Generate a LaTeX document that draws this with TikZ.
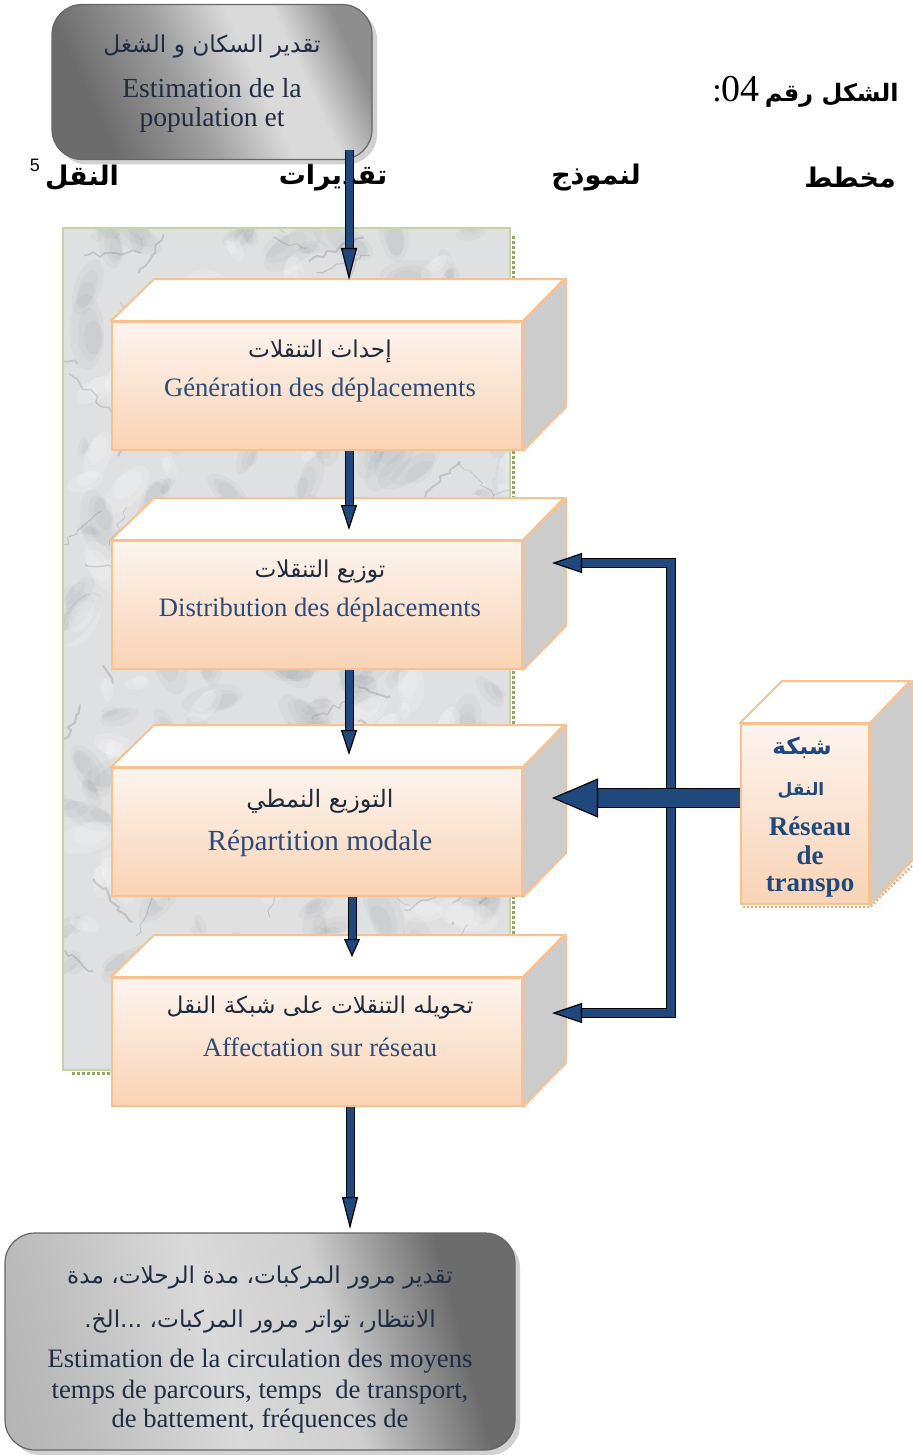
\documentclass[tikz,border=0pt]{standalone}
\usepackage{fontspec}
\setmainfont{Liberation Serif}
\newfontfamily\arabicfont[Script=Arabic]{DejaVu Sans}
\newfontfamily\supfont{Liberation Sans}
\TeXXeTstate=1
\usetikzlibrary{arrows.meta,shadows,decorations.pathmorphing,calc}
\definecolor{arrblue}{HTML}{1F497D}
\definecolor{peachline}{HTML}{FAC090}
\definecolor{peachtop}{HTML}{FDF4EE}
\definecolor{peachbot}{HTML}{F9D3B5}
\definecolor{sidegray}{HTML}{CCCCCC}
\definecolor{frblue}{HTML}{2A4B7C}
\definecolor{frdark}{HTML}{1F2D44}
\definecolor{ardark}{HTML}{1D2B3D}
\definecolor{panelgreen}{HTML}{C3D69B}
\definecolor{panelshade}{HTML}{8FA866}
\definecolor{marble}{HTML}{DEE0E2}
\definecolor{veingray}{HTML}{6E7378}
\definecolor{mgdark}{HTML}{6C6C6C}
\definecolor{mglight}{HTML}{DADADA}
\definecolor{mgmid}{HTML}{8E8E8E}
\definecolor{mgsemi}{HTML}{A0A0A0}
\pgfdeclarehorizontalshading{metaltop}{100bp}{color(0bp)=(mgdark); color(28bp)=(mgdark); color(45bp)=(mgsemi); color(58bp)=(mglight); color(66bp)=(mglight); color(76bp)=(mgmid); color(100bp)=(mgmid)}
\pgfdeclarehorizontalshading{metalbot}{100bp}{color(0bp)=(mgsemi); color(28bp)=(mgsemi!50!mglight); color(45bp)=(mglight); color(58bp)=(mglight!80!mgsemi); color(72bp)=(mgdark); color(100bp)=(mgdark)}
\begin{document}
\begin{tikzpicture}[x=0.5pt,y=-0.5pt,
  metalbox/.style={draw=gray!80!black, line width=0.6pt, rounded corners=15pt,
    drop shadow={shadow xshift=2.5pt, shadow yshift=-2.5pt, fill=gray!60, opacity=0.6}},
  frontface/.style={draw=peachline, line width=1pt, top color=peachtop, bottom color=peachbot,
    minimum width=205pt, minimum height=64pt, inner sep=0pt},
  topface/.style={draw=peachline, line width=1pt, fill=white, line join=round},
  sideface/.style={draw=peachline, line width=1pt, fill=sidegray, line join=round},
  frtext/.style={font=\fontsize{13.3}{15}\selectfont, text=frblue, inner sep=0pt},
  artext/.style={font=\arabicfont\fontsize{11.6}{13}\selectfont, text=ardark, inner sep=0pt},
  titleword/.style={inner sep=0pt, font=\arabicfont\bfseries\fontsize{13.5}{15}\selectfont},
  flowarrow/.style n args={4}{draw=arrblue, line width=#1, line join=miter, line cap=butt,
    -{Triangle[length=#3, width=#4, color=black, fill=arrblue, line width=0.6pt]},
    preaction={draw=black, line width=#2, -, shorten >=#3-1.5pt}},
  flow/.style={flowarrow={3.5pt}{4.5pt}{#1}{8pt}},
  flow/.default=12.5pt,
  feedback/.style={flowarrow={3.8pt}{4.8pt}{15pt}{10pt}},
  bigflow/.style={flowarrow={9pt}{10pt}{23pt}{19.5pt}}
]
\useasboundingbox (0,0) rectangle (912,1455);

% ---------- marble panel ----------
\draw[panelshade, line width=1.5pt, dash pattern=on 1.5pt off 1pt] (513,236) -- (513,1073) -- (70,1073);
\begin{scope}
  \clip (63,228) rectangle (510,1070);
  \fill[marble] (63,228) rectangle (510,1070);
  \pgfmathsetseed{11}
  \foreach \i in {1,...,170}{
    \pgfmathsetmacro{\mx}{63+447*rnd}
    \pgfmathsetmacro{\my}{228+842*rnd}
    \pgfmathsetmacro{\mr}{10+30*rnd}
    \pgfmathsetmacro{\ang}{180*rnd}
    \pgfmathsetmacro{\ox}{-12+24*rnd}
    \pgfmathsetmacro{\oy}{-12+24*rnd}
    \fill[veingray, opacity=0.05, rotate around={\ang:(\mx,\my)}] (\mx,\my) ellipse [x radius=\mr, y radius=0.45*\mr];
    \fill[veingray, opacity=0.05, rotate around={\ang:(\mx,\my)}] (\mx+0.4*\ox,\my+0.4*\oy) ellipse [x radius=0.7*\mr, y radius=0.3*\mr];
    \fill[veingray, opacity=0.05, rotate around={\ang:(\mx,\my)}] (\mx+\ox,\my+\oy) ellipse [x radius=0.45*\mr, y radius=0.25*\mr];
  }
  \foreach \i in {1,...,90}{
    \pgfmathsetmacro{\mx}{63+447*rnd}
    \pgfmathsetmacro{\my}{228+842*rnd}
    \pgfmathsetmacro{\mr}{8+24*rnd}
    \pgfmathsetmacro{\ang}{180*rnd}
    \fill[white, opacity=0.18, rotate around={\ang:(\mx,\my)}] (\mx,\my) ellipse [x radius=\mr, y radius=0.5*\mr];
    \fill[white, opacity=0.18, rotate around={\ang:(\mx,\my)}] (\mx+4,\my-3) ellipse [x radius=0.6*\mr, y radius=0.35*\mr];
  }
  \foreach \i in {1,...,110}{
    \pgfmathsetmacro{\mx}{63+447*rnd}
    \pgfmathsetmacro{\my}{228+842*rnd}
    \pgfmathsetmacro{\dx}{-60+120*rnd}
    \pgfmathsetmacro{\dy}{-60+120*rnd}
    \pgfmathsetmacro{\lw}{0.3+0.8*rnd}
    \draw[veingray, opacity=0.25, line width=\lw pt, line join=round, decorate,
      decoration={random steps, segment length=3pt, amplitude=1.6pt}] (\mx,\my) -- ++(\dx,\dy);
  }
\end{scope}
\draw[panelgreen, line width=1.3pt] (63,228) rectangle (510,1070);

% ---------- title ----------
\node[anchor=east, inner sep=0pt, text=black] (title1) at (899,92)
  {\beginR{\arabicfont\bfseries\fontsize{12}{15}\selectfont الشكل رقم} \beginL{\fontsize{19}{20}\selectfont 04}\endL{\fontsize{17}{18}\selectfont :}\endR};
\node[titleword] (w1) at (850,178) {\beginR مخطط\endR};
\node[titleword] (w2) at (596,178) {\beginR لنموذج\endR};
\node[titleword] (w3) at (333,178) {\beginR تقديرات\endR};
\node[titleword] (w4) at (82,178) {\beginR النقل\endR};
\node[inner sep=0pt, font=\supfont\fontsize{9}{10}\selectfont] (fn) at (35,165) {5};

% ---------- top rounded box ----------
\node[metalbox, shading=metaltop, shading angle=25, minimum width=160pt, minimum height=77.5pt] (tb) at (212,82) {};
\node[artext, text=frdark] (tba) at ($(tb.center)+(0,-35)$) {\beginR تقدير السكان و الشغل\endR};
\node[frtext, text=frdark, font=\fontsize{13.8}{15}\selectfont] (tbf1) at ($(tb.center)+(0,6)$) {Estimation de la};
\node[frtext, text=frdark, font=\fontsize{13.8}{15}\selectfont] (tbf2) at ($(tb.center)+(0,38)$) {population et};

% ---------- process boxes ----------
\foreach \n/\cy in {1/386,2/605,3/832,4/1042}{
  \node[frontface] (b\n) at (317,\cy) {};
  \draw[topface] (b\n.north west) -- ++(43,-42) -- ++(410,0) -- (b\n.north east) -- cycle;
  \draw[sideface] (b\n.north east) -- ++(43,-42) -- ++(0,128) -- (b\n.south east) -- cycle;
}
\node[artext] (b1a) at ($(b1.center)+(3,-34)$) {\beginR إحداث التنقلات\endR};
\node[frtext] (b1f) at ($(b1.center)+(3,4)$) {Génération des déplacements};
\node[artext] (b2a) at ($(b2.center)+(3,-33)$) {\beginR توزيع التنقلات\endR};
\node[frtext] (b2f) at ($(b2.center)+(3,5)$) {Distribution des déplacements};
\node[artext, font=\arabicfont\fontsize{12}{13}\selectfont] (b3a) at ($(b3.center)+(3,-31)$) {\beginR التوزيع النمطي\endR};
\node[frtext, font=\fontsize{14.6}{16}\selectfont] (b3f) at ($(b3.center)+(3,11)$) {Répartition modale};
\node[artext] (b4a) at ($(b4.center)+(3,-34)$) {\beginR تحويله التنقلات على شبكة النقل\endR};
\node[frtext] (b4f) at ($(b4.center)+(3,5)$) {Affectation sur réseau};

% ---------- right box ----------
\draw[brown!60, line width=1.2pt, dash pattern=on 1pt off 1pt] (743,907) -- (870,907) -- (912,866);
\node[frontface, minimum width=64pt, minimum height=90pt] (rb) at (805,814) {};
\draw[topface] (rb.north west) -- ++(42,-42) -- ++(128,0) -- (rb.north east) -- cycle;
\draw[sideface] (rb.north east) -- ++(42,-42) -- ++(0,180) -- (rb.south east) -- cycle;
\node[inner sep=0pt, text=arrblue, font=\arabicfont\bfseries\fontsize{11.5}{13}\selectfont] (rb1) at (802,748) {\beginR شبكة\endR};
\node[inner sep=0pt, text=arrblue, font=\arabicfont\bfseries\fontsize{8.5}{10}\selectfont] (rb2) at (801,791) {\beginR النقل\endR};
\node[inner sep=0pt, text=arrblue, font=\bfseries\fontsize{13.5}{15}\selectfont] (rb3) at (810,826) {Réseau};
\node[inner sep=0pt, text=arrblue, font=\bfseries\fontsize{13.5}{15}\selectfont] (rb4) at (810,855) {de};
\node[inner sep=0pt, text=arrblue, font=\bfseries\fontsize{13.5}{15}\selectfont] (rb5) at (810,887) {transpo};

% ---------- bottom rounded box ----------
\node[metalbox, shading=metalbot, shading angle=15, minimum width=255pt, minimum height=108.5pt] (bb) at (260,1341.5) {};
\node[artext, text=frdark] (bba1) at ($(bb.center)+(0,-63.5)$) {\beginR تقدير مرور المركبات، مدة الرحلات، مدة\endR};
\node[artext, text=frdark] (bba2) at ($(bb.center)+(0,-19.5)$) {\beginR الانتظار، تواتر مرور المركبات، ...الخ.\endR};
\node[frtext, text=frdark] (bbf1) at ($(bb.center)+(0,19.5)$) {Estimation de la circulation des moyens};
\node[frtext, text=frdark] (bbf2) at ($(bb.center)+(0,50.5)$) {temps de parcours, temps\ \ de transport,};
\node[frtext, text=frdark] (bbf3) at ($(bb.center)+(0,79.5)$) {de battement, fréquences de};

% ---------- connectors ----------
\coordinate (a1s) at (349,150);
\coordinate (b1t) at (349,280);
\coordinate (b2t) at (349,530);
\coordinate (b3t) at (349,755);
\coordinate (b4t) at (352,957);
\coordinate (bbt) at (350,1229);
\draw[flow=16pt] (a1s) -- (b1t);
\draw[flow] (b1.south -| b2t) -- (b2t);
\draw[flow] (b2.south -| b3t) -- (b3t);
\draw[flow=9pt] (b3.south -| b4t) -- (b4t);
\draw[flow=16pt] (b4.south -| bbt) -- (bbt);

\coordinate (fbmid) at (671,798);
\coordinate (b2r) at (552,563);
\coordinate (b4r) at (552,1013);
\coordinate (b3r) at (552,798);
\draw[feedback] (fbmid) |- (b2r);
\draw[feedback] (fbmid) |- (b4r);
\draw[bigflow] (rb.west |- b3r) -- (b3r);
\end{tikzpicture}
\end{document}
